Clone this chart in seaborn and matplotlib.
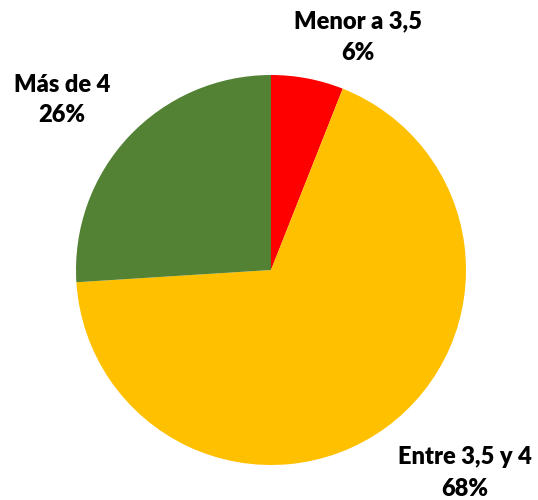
import matplotlib
matplotlib.use("Agg")
import matplotlib.pyplot as plt
import seaborn as sns

# Data
categories = ["Menor a 3,5", "Entre 3,5 y 4", "Más de 4"]
shares = [6, 68, 26]
colors = ["#FF0000", "#FFC000", "#548235"]

# label anchor points in pixels (x from left, y from top) -- layout only
label_px = [(358, 37), (465, 473), (62, 100)]

sns.set_theme(style="white")
plt.rcParams['font.family'] = ['Lato', 'DejaVu Sans']

W, H = 538, 500
fig = plt.figure(figsize=(W / 100, H / 100), dpi=100)
ax = fig.add_axes([0, 0, 1, 1])

cx, cy, r = 271, 270, 195
ax.pie(shares, colors=colors, startangle=90, counterclock=False,
       radius=1, wedgeprops=dict(linewidth=0))
ax.set_xlim(-cx / r, (W - cx) / r)
ax.set_ylim(-(H - cy) / r, cy / r)
ax.set_aspect("equal")
ax.axis("off")

for cat, val, (px, py) in zip(categories, shares, label_px):
    ax.text((px - cx) / r, (cy - py) / r, f"{cat}\n{val}%",
            ha="center", va="center", fontsize=17, fontweight="heavy",
            color="black", linespacing=1.5)

fig.savefig("out.png", dpi=100)
